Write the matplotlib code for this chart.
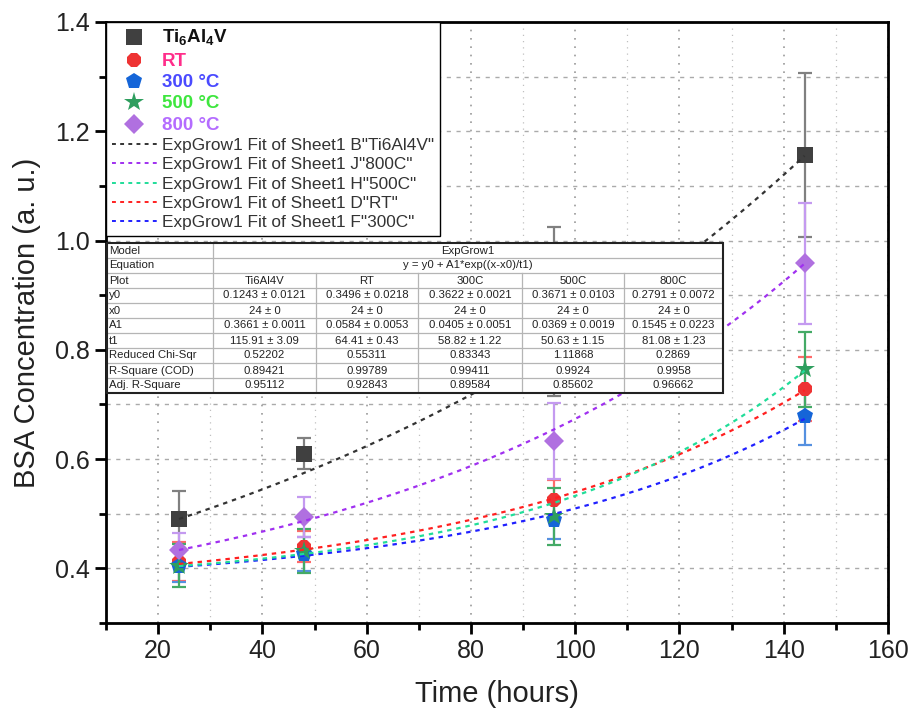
import numpy as np
import matplotlib
matplotlib.use("Agg")
import matplotlib.pyplot as plt
from matplotlib.lines import Line2D
from matplotlib.patches import Rectangle

plt.rcParams['font.family'] = ['Liberation Sans', 'DejaVu Sans']
plt.rcParams['mathtext.fontset'] = 'custom'
plt.rcParams['mathtext.rm'] = 'Liberation Sans'
plt.rcParams['mathtext.bf'] = 'Liberation Sans:bold'

# ---------------- data ----------------
time_h = [24, 48, 96, 144]

ti_vals = [0.490, 0.610, 0.870, 1.157]
ti_err = [0.052, 0.029, 0.155, 0.150]
rt_vals = [0.412, 0.440, 0.525, 0.728]
rt_err = [0.036, 0.028, 0.037, 0.058]
c300_vals = [0.405, 0.426, 0.488, 0.678]
c300_err = [0.030, 0.031, 0.035, 0.052]
c500_vals = [0.405, 0.432, 0.495, 0.764]
c500_err = [0.040, 0.040, 0.053, 0.068]
c800_vals = [0.434, 0.494, 0.633, 0.958]
c800_err = [0.030, 0.037, 0.070, 0.110]

# ExpGrow1 fit parameters (Ti6Al4V, RT, 300C, 500C, 800C)
fit_names = ['Ti6Al4V', 'RT', '300C', '500C', '800C']
fit_y0 = [0.1243, 0.3496, 0.3622, 0.3671, 0.2791]
fit_x0 = [24, 24, 24, 24, 24]
fit_A1 = [0.3661, 0.0584, 0.0405, 0.0369, 0.1545]
fit_t1 = [115.91, 64.41, 58.82, 50.63, 81.08]

# table text
tbl_labels = ['Model', 'Equation', 'Plot', 'y0', 'x0', 'A1', 't1',
              'Reduced Chi-Sqr', 'R-Square (COD)', 'Adj. R-Square']
tbl_model = 'ExpGrow1'
tbl_equation = 'y = y0 + A1*exp((x-x0)/t1)'
tbl_y0 = ['0.1243 ± 0.0121', '0.3496 ± 0.0218', '0.3622 ± 0.0021', '0.3671 ± 0.0103', '0.2791 ± 0.0072']
tbl_x0 = ['24 ± 0'] * 5
tbl_A1 = ['0.3661 ± 0.0011', '0.0584 ± 0.0053', '0.0405 ± 0.0051', '0.0369 ± 0.0019', '0.1545 ± 0.0223']
tbl_t1 = ['115.91 ± 3.09', '64.41 ± 0.43', '58.82 ± 1.22', '50.63 ± 1.15', '81.08 ± 1.23']
tbl_chi = ['0.52202', '0.55311', '0.83343', '1.11868', '0.2869']
tbl_r2 = ['0.89421', '0.99789', '0.99411', '0.9924', '0.9958']
tbl_adj = ['0.95112', '0.92843', '0.89584', '0.85602', '0.96662']

# ---------------- figure ----------------
W, H = 909, 715
fig = plt.figure(figsize=(W / 100, H / 100), dpi=100)
ax = fig.add_axes([106 / W, 1 - 623 / H, 782 / W, 601 / H])

ax.set_xlim(10, 160)
ax.set_ylim(0.3, 1.4)
ax.set_xticks(np.arange(20, 161, 20))
ax.set_xticks(np.arange(10, 161, 10), minor=True)
ax.set_yticks(np.arange(0.4, 1.41, 0.2))
ax.set_yticks(np.arange(0.3, 1.41, 0.1), minor=True)
ax.set_yticklabels([f'{v:.1f}' for v in np.arange(0.4, 1.41, 0.2)])

ax.grid(True, which='major', axis='x', color='#999999', linestyle=(0, (1, 4)), lw=1.2)
ax.grid(True, which='minor', axis='x', color='#c0c0c0', linestyle=(0, (1, 4)), lw=0.9)
ax.grid(True, which='both', axis='y', color='#aaaaaa', linestyle=(0, (3, 4)), lw=1.0)
ax.set_axisbelow(True)

for s in ax.spines.values():
    s.set_linewidth(2)
ax.tick_params(which='major', direction='out', length=8, width=2, labelsize=18, colors='black')
ax.tick_params(which='minor', direction='out', length=5, width=2)
ax.tick_params(axis='both', labelcolor='#222222')

ax.set_xlabel('Time (hours)', fontsize=21, color='#222222', labelpad=12)
ax.set_ylabel('BSA Concentration (a. u.)', fontsize=21, color='#222222', labelpad=10)

series = [
    ('Ti$_\\mathbf{6}$Al$_\\mathbf{4}$V', ti_vals, ti_err, 's', '#404040', '#808080', 11, '#111111'),
    ('RT', rt_vals, rt_err, '8', '#ee3333', '#ff6a6a', 11, '#ff2d8a'),
    ('300 °C', c300_vals, c300_err, 'p', '#1565d8', '#5590e0', 12, '#4a4aff'),
    ('500 °C', c500_vals, c500_err, '*', '#2e9e5e', '#44aa66', 15, '#3ee63e'),
    ('800 °C', c800_vals, c800_err, 'D', '#b070e0', '#c49af0', 10, '#b46cff'),
]

marker_handles = []
for lab, vals, err, mk, mc, ec, ms, tc in series:
    ax.errorbar(time_h, vals, yerr=err, fmt='none', ecolor=ec, elinewidth=1.6,
                capsize=5, capthick=1.6, zorder=3)
    ax.plot(time_h, vals, linestyle='none', marker=mk, color=mc, ms=ms,
            markeredgewidth=0, zorder=4)
    marker_handles.append(Line2D([], [], linestyle='none', marker=mk, color=mc,
                                 ms=ms, markeredgewidth=0))

fit_colors = ['#333333', '#ff2020', '#2020ff', '#20dd99', '#a030f0']
fit_labels = ['ExpGrow1 Fit of Sheet1 B"Ti6Al4V"', 'ExpGrow1 Fit of Sheet1 D"RT"',
              'ExpGrow1 Fit of Sheet1 F"300C"', 'ExpGrow1 Fit of Sheet1 H"500C"',
              'ExpGrow1 Fit of Sheet1 J"800C"']
xf = np.linspace(24, 144, 200)
fit_handles = []
for i in range(5):
    yf = fit_y0[i] + fit_A1[i] * np.exp((xf - fit_x0[i]) / fit_t1[i])
    ax.plot(xf, yf, color=fit_colors[i], lw=1.6, linestyle=(0, (2, 2.2)), zorder=5)
    fit_handles.append(Line2D([], [], color=fit_colors[i], lw=1.4, linestyle=(0, (2, 2.2))))

# legend order: markers, then fits Ti, 800, 500, RT, 300
order = [0, 4, 3, 1, 2]
handles = marker_handles + [fit_handles[i] for i in order]
labels = [s[0] for s in series] + [fit_labels[i] for i in order]
leg = ax.legend(handles, labels, loc='upper left', bbox_to_anchor=(0.0, 1.0),
                borderaxespad=0, fontsize=12.4, frameon=True, fancybox=False,
                edgecolor='black', framealpha=1, handlelength=2.6,
                handletextpad=0.3, labelspacing=0.25, borderpad=0.35)
leg.get_frame().set_linewidth(1.0)
leg.set_zorder(10)
texts = leg.get_texts()
for i, t in enumerate(texts):
    if i < 5:
        t.set_fontweight('bold')
        t.set_fontsize(13.5)
        t.set_color(series[i][7])
    else:
        t.set_color('#333333')

# ---------------- parameter table ----------------
tx0, ty0, tw, th = 107, 243, 616, 150
tax = fig.add_axes([tx0 / W, 1 - (ty0 + th) / H, tw / W, th / H])
tax.set_xlim(0, tw)
tax.set_ylim(th, 0)
tax.axis('off')
tax.add_patch(Rectangle((0, 0), tw, th, facecolor='white', edgecolor='none', zorder=0))
cols = [0, 106, 209, 311, 415, 517, 616]
rh = th / 10
gcol = '#b5b5b5'
for r in range(1, 10):
    tax.plot([0, tw], [r * rh, r * rh], color=gcol, lw=0.9, zorder=1)
tax.plot([cols[1], cols[1]], [0, th], color=gcol, lw=0.9, zorder=1)
for c in cols[2:-1]:
    tax.plot([c, c], [2 * rh, th], color=gcol, lw=0.9, zorder=1)
tax.add_patch(Rectangle((0, 0), tw, th, facecolor='none', edgecolor='#222222', lw=1.5,
                        zorder=3, clip_on=False))
fs = 8.2
tcol = '#222222'
for r, lab in enumerate(tbl_labels):
    tax.text(2, (r + 0.5) * rh, lab, ha='left', va='center', fontsize=fs, color=tcol)
mid = (cols[1] + cols[-1]) / 2
tax.text(mid, 0.5 * rh, tbl_model, ha='center', va='center', fontsize=fs, color=tcol)
tax.text(mid, 1.5 * rh, tbl_equation, ha='center', va='center', fontsize=fs, color=tcol)
rows = [fit_names, tbl_y0, tbl_x0, tbl_A1, tbl_t1, tbl_chi, tbl_r2, tbl_adj]
for r, rowvals in enumerate(rows):
    for c, v in enumerate(rowvals):
        xc = (cols[c + 1] + cols[c + 2]) / 2
        tax.text(xc, (r + 2.5) * rh, v, ha='center', va='center', fontsize=fs, color=tcol)

fig.savefig('out.png', dpi=100)
